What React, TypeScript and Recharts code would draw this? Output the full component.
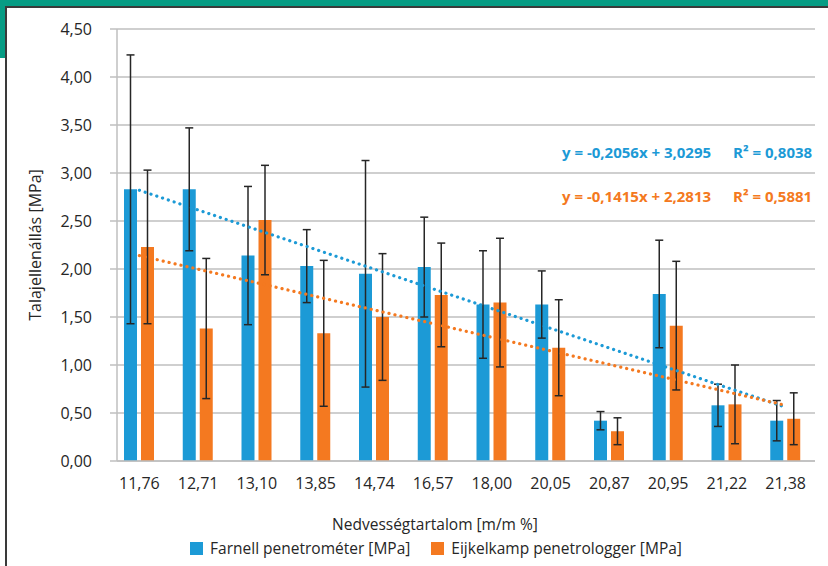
import React from 'react';
import { ComposedChart, Bar, Line, XAxis, YAxis, CartesianGrid, ErrorBar, Legend, Label } from 'recharts';

const categories = ['11,76', '12,71', '13,10', '13,85', '14,74', '16,57', '18,00', '20,05', '20,87', '20,95', '21,22', '21,38'];
const farnell = [2.83, 2.83, 2.14, 2.03, 1.95, 2.02, 1.63, 1.63, 0.42, 1.74, 0.58, 0.42];
const farnellErr = [1.4, 0.64, 0.72, 0.38, 1.18, 0.52, 0.56, 0.35, 0.095, 0.56, 0.22, 0.21];
const eijkelkamp = [2.23, 1.38, 2.51, 1.33, 1.5, 1.73, 1.65, 1.18, 0.31, 1.41, 0.59, 0.44];
const eijkelkampErr = [0.8, 0.73, 0.57, 0.76, 0.66, 0.54, 0.67, 0.5, 0.14, 0.67, 0.41, 0.27];
const trendFarnell = [2.82, 0.56];
const trendEijkelkamp = [2.14, 0.58];
const yTicks = [0, 0.5, 1, 1.5, 2, 2.5, 3, 3.5, 4, 4.5];

const seriesNames = ['Farnell penetrométer [MPa]', 'Eijkelkamp penetrologger [MPa]'];
const equations = [
  ['y = -0,2056x + 3,0295', 'R² = 0,8038'],
  ['y = -0,1415x + 2,2813', 'R² = 0,5881'],
];

const BLUE = '#1c9ad6';
const ORANGE = '#f47920';
const GREEN = '#069c84';
const GRID = '#bfbfbf';
const TEXT = '#262626';
const FONT = '"Open Sans", sans-serif';

const last = categories.length - 1;
const data = categories.map((c, i) => ({
  cat: c,
  farnell: farnell[i],
  farnellErr: farnellErr[i],
  eijkelkamp: eijkelkamp[i],
  eijkelkampErr: eijkelkampErr[i],
  trendF: i === 0 ? trendFarnell[0] : i === last ? trendFarnell[1] : null,
  trendE: i === 0 ? trendEijkelkamp[0] : i === last ? trendEijkelkamp[1] : null,
}));

const fmt = (v: number) => v.toFixed(2).replace('.', ',');

const LegendContent = () => (
  <div style={{ height: 26, display: 'flex', justifyContent: 'center', alignItems: 'center', fontFamily: FONT, fontSize: 15.5, color: TEXT }}>
    {[BLUE, ORANGE].map((col, i) => (
      <div key={i} style={{ display: 'flex', alignItems: 'center', marginLeft: i ? 21 : 0 }}>
        <div style={{ width: 13, height: 13, background: col, marginRight: 7 }} />
        <span>{seriesNames[i]}</span>
      </div>
    ))}
  </div>
);

const YLabel = (props: any) => {
  const vb = props.viewBox || { x: 0, y: 0, width: 0, height: 0 };
  const cx = vb.x + 35;
  const cy = vb.y + vb.height / 2;
  return (
    <text x={cx} y={cy} transform={`rotate(-90 ${cx} ${cy})`} textAnchor="middle" dominantBaseline="central" fontFamily={FONT} fontSize={16} fill={TEXT}>
      Talajellenállás [MPa]
    </text>
  );
};

export default function App() {
  return (
    <div style={{ position: 'absolute', left: 0, top: 0, width: 828, height: 566, background: '#fff', overflow: 'hidden' }}>
      <div style={{ position: 'absolute', left: 0, top: 0, width: 828, height: 6, background: GREEN }} />
      <div style={{ position: 'absolute', left: 0, top: 0, width: 5, height: 58, background: GREEN }} />
      <div style={{ position: 'absolute', left: 5, top: 6, width: 823, height: 1.5, background: '#3a3a3a' }} />
      <div style={{ position: 'absolute', left: 5, top: 6, width: 1.5, height: 560, background: '#3a3a3a' }} />
      <ComposedChart
        width={828}
        height={566}
        data={data}
        margin={{ top: 29, right: 13, bottom: 5, left: 0 }}
        barGap={4}
        style={{ position: 'absolute', left: 0, top: 0 }}
      >
        <CartesianGrid vertical={false} stroke={GRID} strokeWidth={1.5} />
        <XAxis
          dataKey="cat"
          height={74}
          padding={{ left: -7, right: 0 }}
          tickLine={false}
          axisLine={{ stroke: GRID, strokeWidth: 1.5 }}
          tickMargin={11}
          tick={{ fontFamily: FONT, fontSize: 16, fill: TEXT }}
          interval={0}
        >
          <Label value="Nedvességtartalom [m/m %]" position="insideBottom" offset={5} dx={-31} style={{ fontFamily: FONT, fontSize: 15.5, fill: TEXT }} />
        </XAxis>
        <YAxis
          width={117}
          domain={[0, 4.5]}
          ticks={yTicks}
          tickFormatter={fmt}
          tickSize={7}
          tickMargin={18}
          tickLine={{ stroke: GRID, strokeWidth: 1.5 }}
          axisLine={{ stroke: GRID, strokeWidth: 1.5 }}
          tick={{ fontFamily: FONT, fontSize: 16, fill: TEXT }}
          label={<YLabel />}
        />
        <Legend verticalAlign="bottom" content={<LegendContent />} wrapperStyle={{ left: 0, width: 872 }} />
        <Bar dataKey="farnell" fill={BLUE} barSize={13} isAnimationActive={false}>
          <ErrorBar dataKey="farnellErr" width={4} stroke={TEXT} strokeWidth={1.5} direction="y" />
        </Bar>
        <Bar dataKey="eijkelkamp" fill={ORANGE} barSize={13} isAnimationActive={false}>
          <ErrorBar dataKey="eijkelkampErr" width={4} stroke={TEXT} strokeWidth={1.5} direction="y" />
        </Bar>
        <Line dataKey="trendF" stroke={BLUE} strokeWidth={3.2} strokeDasharray="0.1 6" strokeLinecap="round" dot={false} connectNulls isAnimationActive={false} legendType="none" />
        <Line dataKey="trendE" stroke={ORANGE} strokeWidth={3.2} strokeDasharray="0.1 6" strokeLinecap="round" dot={false} connectNulls isAnimationActive={false} legendType="none" />
      </ComposedChart>
      {equations.map((eq, i) => {
        const col = i === 0 ? BLUE : ORANGE;
        const top = i === 0 ? 142 : 186;
        return (
          <React.Fragment key={i}>
            <div style={{ position: 'absolute', left: 562, top, fontFamily: FONT, fontWeight: 700, fontSize: 15, lineHeight: '20px', color: col, whiteSpace: 'nowrap' }}>{eq[0]}</div>
            <div style={{ position: 'absolute', left: 733, top, fontFamily: FONT, fontWeight: 700, fontSize: 15, lineHeight: '20px', color: col, whiteSpace: 'nowrap' }}>{eq[1]}</div>
          </React.Fragment>
        );
      })}
    </div>
  );
}
